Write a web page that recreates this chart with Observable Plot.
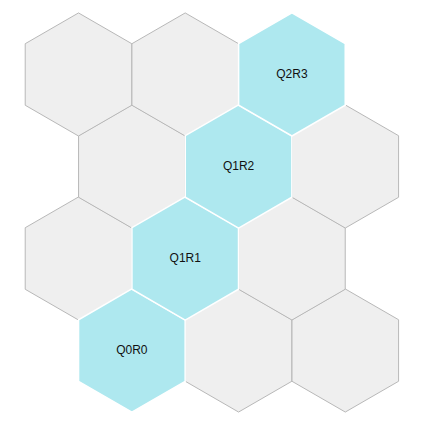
<!DOCTYPE html>
<html>
<head>
<meta charset="utf-8">
<script src="https://cdn.jsdelivr.net/npm/d3@7"></script>
<script src="https://cdn.jsdelivr.net/npm/@observablehq/plot@0.6"></script>
<style>body{margin:0;background:#fff}</style>
</head>
<body>
<div id="chart"></div>
<script>
// grid of offset hex cells: column q, row r (row 0 at bottom)
const cols = [0, 1, 2]
const rows = [0, 1, 2, 3]
const highlighted = ['Q0R0', 'Q1R1', 'Q1R2', 'Q2R3']

const cells = []
rows.forEach(r => cols.forEach(q => {
  cells.push({q, r, label: `Q${q}R${r}`, x: q + (r % 2 == 0 ? 0.5 : 0), y: r})
}))
const hot = cells.filter(d => highlighted.includes(d.label))
const cold = cells.filter(d => !highlighted.includes(d.label))

let chart = Plot.plot({
  width: 423,
  height: 433,
  margin: 0,
  x: {domain: [-0.731, 3.233], axis: null},
  y: {domain: [-0.902, 3.804], axis: null},
  marks: [
    Plot.hexagon(cold, {x: 'x', y: 'y', r: 53.3, fill: '#efefef', stroke: '#b8b8b8', strokeWidth: 1}),
    Plot.hexagon(hot, {x: 'x', y: 'y', r: 53.3, fill: '#aee8ef', stroke: '#ffffff', strokeWidth: 1.5}),
    Plot.text(hot, {x: 'x', y: 'y', text: 'label', fill: '#111', fontSize: 12})
  ],
  style: {fontFamily: 'Liberation Sans, Arial, sans-serif', background: '#fff'}
})
d3.select('#chart').append(() => chart)
</script>
</body>
</html>
